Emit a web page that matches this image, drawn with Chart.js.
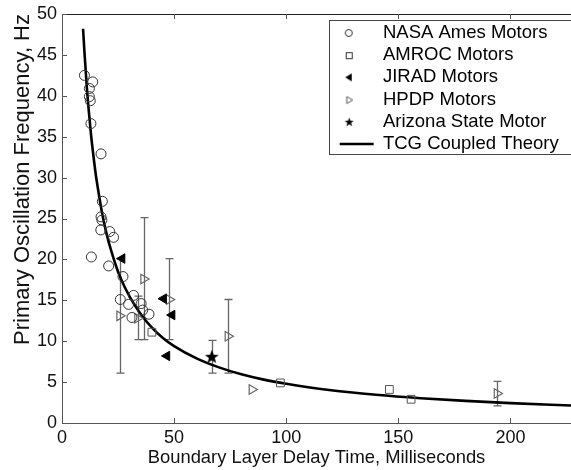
<!DOCTYPE html>
<html>
<head>
<meta charset="utf-8">
<script src="https://cdn.jsdelivr.net/npm/chart.js@4/dist/chart.umd.min.js"></script>
<style>
  html, body { margin: 0; padding: 0; background: #fff; }
  canvas { display: block; }
</style>
</head>
<body>
<canvas id="chart_oscillation" width="571" height="470"></canvas>
<script>
// NASA Ames Motors
var nasaX = [10, 13.7, 12.2, 12.2, 12.6, 12.9, 17.4, 18.0, 17.4, 17.8, 17.3, 21.3, 23.0, 13.1, 20.8, 27.2, 26.0, 31.9, 29.7, 35.3, 36.0, 38.8, 31.2];
var nasaY = [42.5, 41.7, 40.9, 39.9, 39.4, 36.6, 32.9, 27.1, 25.2, 24.8, 23.6, 23.4, 22.7, 20.3, 19.2, 17.9, 15.1, 15.6, 14.5, 14.6, 13.8, 13.3, 12.9];
// AMROC Motors
var amrocX = [40.1, 97.4, 146.0, 155.7];
var amrocY = [11.1, 4.9, 4.1, 2.9];
// JIRAD Motors
var jiradX = [26.8, 45.3, 49.1, 46.8];
var jiradY = [20.1, 15.2, 13.2, 8.2];
// HPDP Motors (with error bars)
var hpdpX = [25.7, 33.7, 36.4, 47.8, 74.0, 84.7, 194.0];
var hpdpY = [13.1, 12.8, 17.6, 15.1, 10.6, 4.1, 3.6];
var hpdpLow = [6.1, 10.2, 10.2, 10.2, 6.1, null, 2.1];
var hpdpHigh = [20.1, 15.5, 25.1, 20.1, 15.1, null, 5.1];
// Arizona State Motor
var arizonaX = [66.8];
var arizonaY = [8.1];
var arizonaLow = [6.1];
var arizonaHigh = [10.1];
// TCG Coupled Theory curve
var theoryX = [9.4, 10, 11, 12, 13, 14, 15, 16, 18, 20, 22, 25, 28, 32, 36, 40, 45, 50, 60, 70, 80, 90, 100, 120, 140, 160, 180, 200, 227];
var theoryY = [48.2, 45.4, 41.3, 38.0, 35.1, 32.7, 30.5, 28.7, 25.5, 23.0, 21.0, 18.5, 16.6, 14.6, 13.0, 11.7, 10.4, 9.4, 7.9, 6.8, 5.95, 5.3, 4.8, 4.0, 3.45, 3.03, 2.7, 2.43, 2.14];

var xTickStep = 50;
var yTickStep = 5;

function pts(xs, ys) {
    return xs.map(function(x, i) { return {x: x, y: ys[i]}; });
}

function makeIcon(w, h, draw) {
    var c = document.createElement('canvas');
    c.width = w; c.height = h;
    draw(c.getContext('2d'));
    return c;
}

function starPath(ctx, cx, cy, outer, inner) {
    ctx.beginPath();
    for (var i = 0; i < 10; i++) {
        var r = i % 2 === 0 ? outer : inner;
        var a = -Math.PI / 2 + i * Math.PI / 5;
        ctx.lineTo(cx + r * Math.cos(a), cy + r * Math.sin(a));
    }
    ctx.closePath();
}

var starPoint = makeIcon(16, 16, function(ctx) {
    starPath(ctx, 8, 8.4, 7.3, 3.1);
    ctx.fillStyle = '#000';
    ctx.fill();
});

// legend icons: marker sits near the left of a 34px slot
var legendIcons = [
    makeIcon(34, 16, function(ctx) {
        ctx.strokeStyle = '#333'; ctx.lineWidth = 1;
        ctx.beginPath(); ctx.arc(9, 8, 3.5, 0, Math.PI * 2); ctx.stroke();
    }),
    makeIcon(34, 16, function(ctx) {
        ctx.strokeStyle = '#333'; ctx.lineWidth = 1;
        ctx.strokeRect(6.5, 5.5, 6, 6);
    }),
    makeIcon(34, 16, function(ctx) {
        ctx.fillStyle = '#000';
        ctx.beginPath(); ctx.moveTo(5.5, 8); ctx.lineTo(12, 4); ctx.lineTo(12, 12); ctx.closePath(); ctx.fill();
    }),
    makeIcon(34, 16, function(ctx) {
        ctx.strokeStyle = '#555'; ctx.lineWidth = 1;
        ctx.beginPath(); ctx.moveTo(13, 8.5); ctx.lineTo(7, 5); ctx.lineTo(7, 12); ctx.closePath(); ctx.stroke();
    }),
    makeIcon(34, 16, function(ctx) {
        starPath(ctx, 9.5, 8.5, 4.8, 2);
        ctx.fillStyle = '#000'; ctx.fill();
    }),
    null
];

var errorBarPlugin = {
    id: 'errorBars',
    beforeDatasetsDraw: function(chart) {
        var ctx = chart.ctx, xs = chart.scales.x, ys = chart.scales.y;
        ctx.save();
        ctx.strokeStyle = '#666';
        ctx.lineWidth = 1.3;
        chart.data.datasets.forEach(function(ds) {
            if (!ds.errLow) return;
            ds.data.forEach(function(p, j) {
                if (ds.errLow[j] == null) return;
                var px = Math.round(xs.getPixelForValue(p.x)) + 0.5;
                var y1 = ys.getPixelForValue(ds.errLow[j]);
                var y2 = ys.getPixelForValue(ds.errHigh[j]);
                ctx.beginPath();
                ctx.moveTo(px, y1); ctx.lineTo(px, y2);
                ctx.moveTo(px - 4, y1); ctx.lineTo(px + 4, y1);
                ctx.moveTo(px - 4, y2); ctx.lineTo(px + 4, y2);
                ctx.stroke();
            });
        });
        ctx.restore();
    }
};

var legendPlacePlugin = {
    id: 'legendPlace',
    afterLayout: function(chart) {
        var lg = chart.legend, a = chart.chartArea;
        lg.left = a.left + 274;
        lg.top = a.top + 6;
        lg.right = a.right;
        lg.bottom = a.top + 146;
        lg.width = lg.right - lg.left;
        lg.height = lg.bottom - lg.top;
    }
};

var framePlugin = {
    id: 'frameTicks',
    afterDraw: function(chart) {
        var ctx = chart.ctx, a = chart.chartArea, xs = chart.scales.x, ys = chart.scales.y;
        ctx.save();
        ctx.strokeStyle = '#222';
        ctx.lineWidth = 1;
        ctx.beginPath();
        ctx.moveTo(a.left, a.top + 0.5); ctx.lineTo(a.right, a.top + 0.5);
        ctx.stroke();
        ctx.strokeStyle = '#555';
        ctx.beginPath();
        xs.ticks.forEach(function(t) {
            var px = Math.round(xs.getPixelForValue(t.value)) + 0.5;
            ctx.moveTo(px, a.bottom); ctx.lineTo(px, a.bottom - 5);
            ctx.moveTo(px, a.top); ctx.lineTo(px, a.top + 5);
        });
        ys.ticks.forEach(function(t) {
            var py = Math.round(ys.getPixelForValue(t.value)) + 0.5;
            ctx.moveTo(a.left, py); ctx.lineTo(a.left + 5, py);
        });
        ctx.stroke();
        // box round the legend
        var lg = chart.legend;
        ctx.strokeStyle = '#444';
        ctx.strokeRect(Math.round(lg.left) - 6.5, Math.round(lg.top) + 0.5, a.right - lg.left + 20, 134);
        ctx.restore();
    }
};

Chart.defaults.font.family = "'Liberation Sans', Arial, sans-serif";
Chart.defaults.color = '#111';

var chart_oscillation = new Chart(document.getElementById('chart_oscillation'), {
    type: 'scatter',
    data: {
        datasets: [
            {
                label: 'NASA Ames Motors',
                data: pts(nasaX, nasaY),
                pointStyle: 'circle',
                pointRadius: 5,
                borderColor: '#333',
                backgroundColor: 'rgba(0,0,0,0)',
                borderWidth: 1
            },
            {
                label: 'AMROC Motors',
                data: pts(amrocX, amrocY),
                pointStyle: 'rect',
                pointRadius: 5.5,
                borderColor: '#555',
                backgroundColor: 'rgba(0,0,0,0)',
                borderWidth: 1
            },
            {
                label: 'JIRAD Motors',
                data: pts(jiradX, jiradY),
                pointStyle: 'triangle',
                pointRotation: -90,
                pointRadius: 5.5,
                borderColor: '#000',
                backgroundColor: '#000',
                borderWidth: 1
            },
            {
                label: 'HPDP Motors',
                data: pts(hpdpX, hpdpY),
                errLow: hpdpLow,
                errHigh: hpdpHigh,
                pointStyle: 'triangle',
                pointRotation: 90,
                pointRadius: 5.5,
                borderColor: '#666',
                backgroundColor: 'rgba(0,0,0,0)',
                borderWidth: 1.2
            },
            {
                label: 'Arizona State Motor',
                data: pts(arizonaX, arizonaY),
                errLow: arizonaLow,
                errHigh: arizonaHigh,
                pointStyle: starPoint,
                pointRadius: 7,
                borderColor: '#000',
                backgroundColor: '#000'
            },
            {
                label: 'TCG Coupled Theory',
                data: pts(theoryX, theoryY),
                showLine: true,
                pointRadius: 0,
                pointStyle: 'line',
                borderColor: '#000',
                backgroundColor: '#000',
                borderWidth: 2.6,
                tension: 0.4,
                cubicInterpolationMode: 'monotone'
            }
        ]
    },
    options: {
        animation: false,
        responsive: false,
        layout: { autoPadding: false, padding: { top: 14, right: 0, bottom: 0, left: 0 } },
        plugins: {
            tooltip: { enabled: false },
            legend: {
                display: true,
                position: 'chartArea',
                fullSize: false,
                align: 'start',
                labels: {
                    usePointStyle: true,
                    pointStyleWidth: 34,
                    padding: 3.7,
                    color: '#000',
                    font: { size: 18.5 },
                    generateLabels: function(chart) {
                        var items = Chart.defaults.plugins.legend.labels.generateLabels(chart);
                        items.forEach(function(it) {
                            var ic = legendIcons[it.datasetIndex];
                            if (ic) {
                                it.pointStyle = ic;
                                it.rotation = 0;
                            }
                        });
                        return items;
                    }
                }
            }
        },
        scales: {
            x: {
                type: 'linear',
                min: 0,
                max: 227,
                afterFit: function(scale) {
                    scale.height = 47;
                    scale.paddingLeft = 0;
                    scale.paddingRight = 0;
                },
                grid: { display: false, drawTicks: false },
                border: { display: true, color: '#555', width: 1 },
                ticks: { stepSize: xTickStep, includeBounds: false, padding: 4, font: { size: 18 }, color: '#111' },
                title: {
                    display: true,
                    text: 'Boundary Layer Delay Time, Milliseconds',
                    font: { size: 18.4 },
                    color: '#111',
                    padding: { top: 0, bottom: 1 }
                }
            },
            y: {
                type: 'linear',
                min: 0,
                max: 50,
                afterFit: function(scale) {
                    scale.width = 62;
                    scale.paddingTop = 0;
                    scale.paddingBottom = 0;
                },
                grid: { display: false, drawTicks: false },
                border: { display: true, color: '#555', width: 1 },
                ticks: { stepSize: yTickStep, padding: 5, font: { size: 18 }, color: '#111' },
                title: {
                    display: true,
                    text: 'Primary Oscillation Frequency, Hz',
                    align: 'end',
                    font: { size: 22 },
                    color: '#111',
                    padding: { top: 10, bottom: 0 }
                }
            }
        }
    },
    plugins: [errorBarPlugin, legendPlacePlugin, framePlugin]
});
</script>
</body>
</html>
